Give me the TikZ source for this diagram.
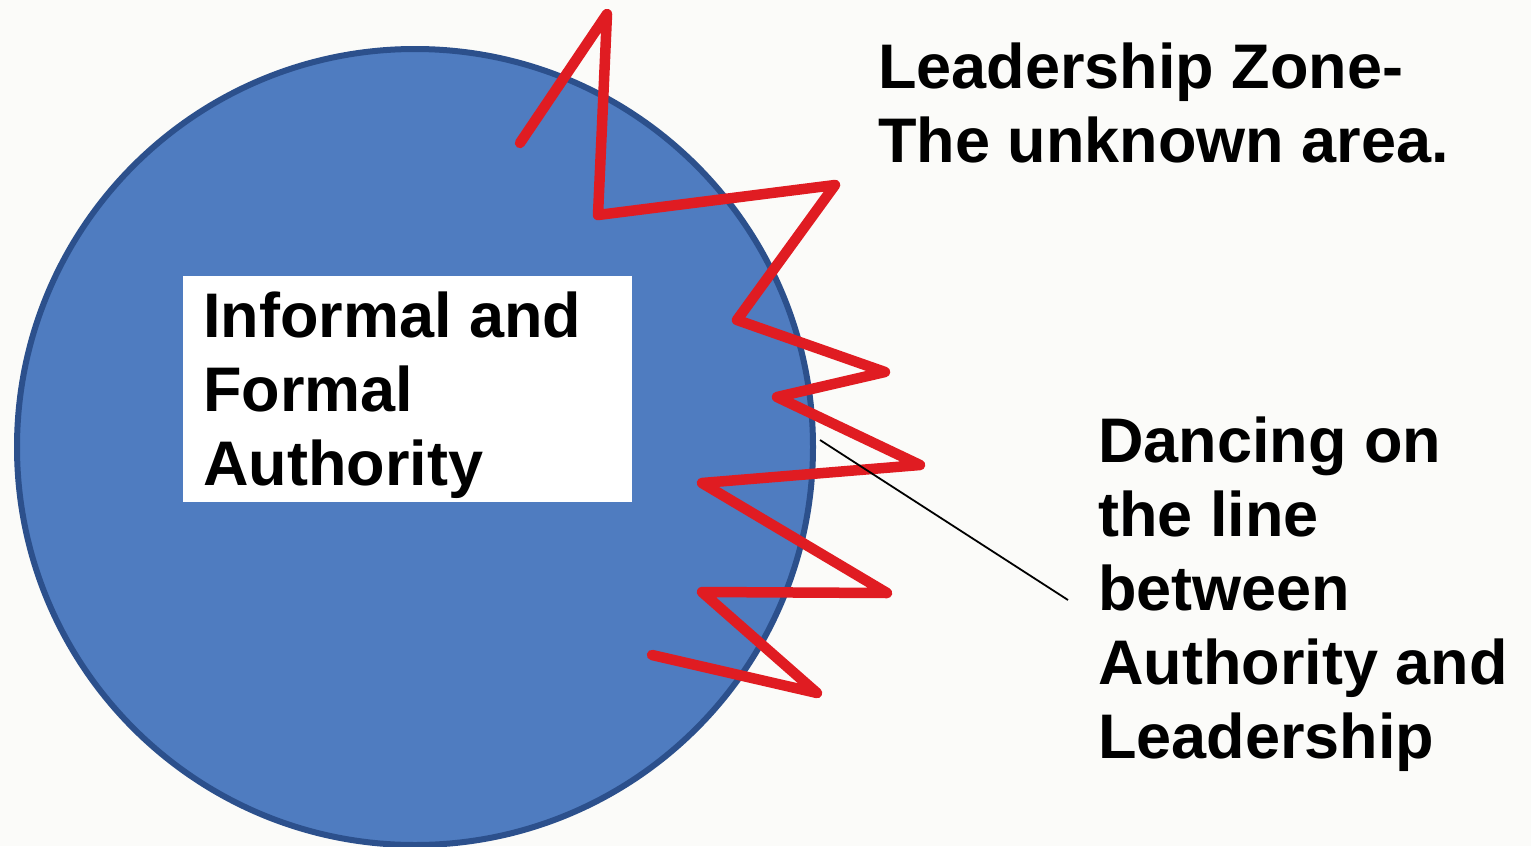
\documentclass[tikz,border=0pt]{standalone}
\usepackage{fontspec}
\setmainfont{Liberation Sans}
\definecolor{bgc}{RGB}{251,251,249}
\definecolor{cfill}{RGB}{79,124,192}
\definecolor{cborder}{RGB}{44,80,140}
\definecolor{zred}{RGB}{224,28,34}
\tikzset{
  lbl/.style={font=\bfseries\fontsize{63}{74}\selectfont, align=left, inner sep=0pt, anchor=base west, text=black},
  whitebox/.style={fill=white, draw=none, inner sep=0pt, anchor=north west},
  zig/.style={draw=zred, line width=10.5pt, line join=round, line cap=round},
  pointer/.style={draw=black, line width=1.8pt}
}
\begin{document}
\begin{tikzpicture}[x=1pt,y=-1pt]
\useasboundingbox[fill=bgc] (0,0) rectangle (1531,846);
\node[circle, fill=cfill, draw=cborder, line width=6pt, minimum size=796pt, inner sep=0pt] (c) at (415,447) {};
\node[whitebox, minimum width=449pt, minimum height=226pt] (box) at (183,276) {};
% base anchor of a multi-line node = baseline of its last line
\node[lbl] (auth) at (203,485) {Informal and\\Formal\\Authority};
\coordinate (z0) at (520,143);
\coordinate (z1) at (607,14);
\coordinate (z2) at (598,215);
\coordinate (z3) at (835,185);
\coordinate (z4) at (737,320);
\coordinate (z5) at (885,372);
\coordinate (z6) at (777,397);
\coordinate (z7) at (920,465);
\coordinate (z8) at (702,483);
\coordinate (z9) at (887,593);
\coordinate (z10) at (702,592);
\coordinate (z11) at (817,693);
\coordinate (z12) at (652,655);
\draw[zig] (z0) -- (z1) -- (z2) -- (z3) -- (z4) -- (z5) -- (z6) -- (z7) -- (z8) -- (z9) -- (z10) -- (z11) -- (z12);
\node[lbl] (zone) at (878,162) {Leadership Zone-\\The unknown area.};
\node[lbl] (dance) at (1098,758) {Dancing on\\the line\\between\\Authority and\\Leadership};
\coordinate (edge) at (820,440);
\coordinate (tip) at (1068,600);
\draw[pointer] (edge) -- (tip);
\end{tikzpicture}
\end{document}
